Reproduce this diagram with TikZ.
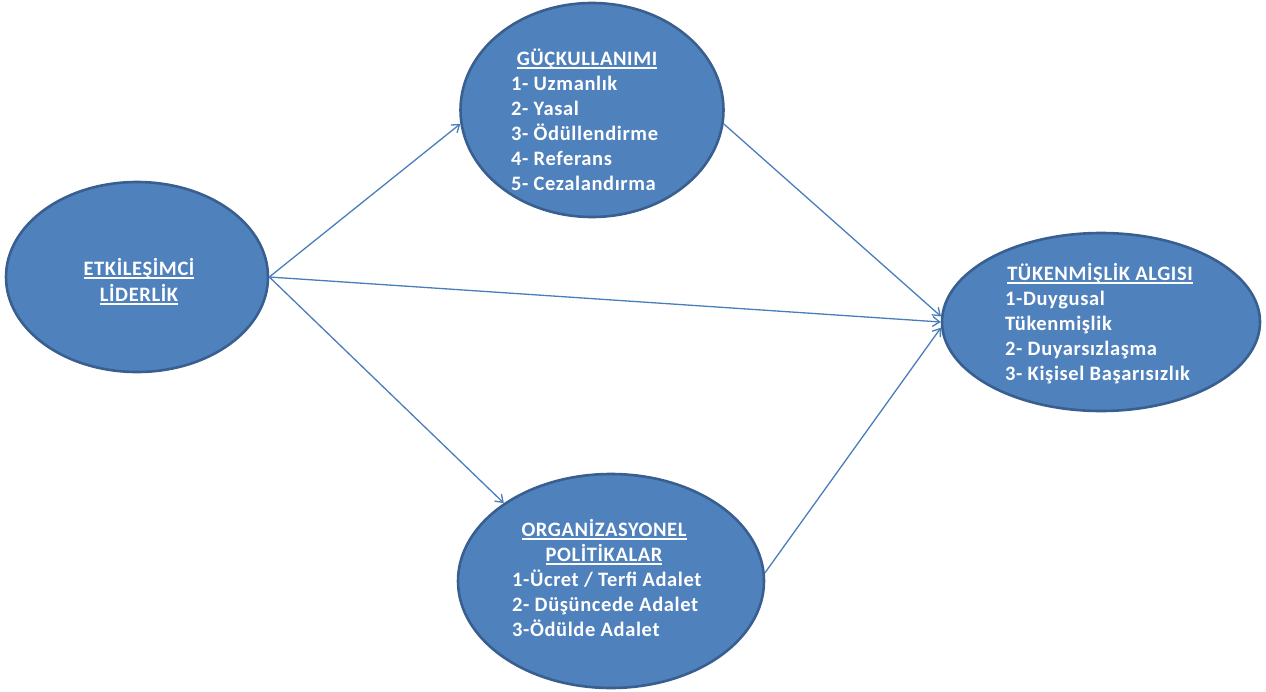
\documentclass[tikz,border=0pt]{standalone}
\usepackage{fontspec}
\setmainfont{Carlito}[LetterSpace=3]
\usetikzlibrary{shapes.geometric,arrows.meta}
\definecolor{fillblue}{HTML}{4F81BD}
\definecolor{edgeblue}{HTML}{385F8F}
\definecolor{linkblue}{HTML}{4A7EBB}
% underlined heading with a heavier rule
\newcommand\headline[1]{\setbox0\hbox{#1}\rlap{\rule[-3.6pt]{\wd0}{1.6pt}}\box0}
\begin{document}
\begin{tikzpicture}[x=1pt,y=-1pt,
  blob/.style={ellipse,draw=edgeblue,line width=2.6pt,fill=fillblue,inner sep=0pt},
  txt/.style={text=white,font=\fontsize{20.5}{25}\selectfont\bfseries,inner sep=0pt},
  head/.style={txt,anchor=base},
  item/.style={txt,anchor=base west},
  link/.style={draw=linkblue,line width=1.3pt,-{Straight Barb[length=7pt,width=10pt]}}]
\useasboundingbox (0,0) rectangle (1266,691);

% ellipses
\node[blob,minimum width=262pt,minimum height=190pt] (lead) at (137,277) {};
\node[blob,minimum width=263pt,minimum height=214pt] (power) at (592,110) {};
\node[blob,minimum width=318pt,minimum height=178pt] (burn) at (1101,322) {};
\node[blob,minimum width=306pt,minimum height=214pt] (org) at (611,581) {};

% connectors
\draw[link] (lead.east) -- (power.186);
\draw[link] (lead.east) -- (burn.180);
\draw[link] (lead.east) -- (org.144);
\draw[link] (power.-6) -- (burn.178);
\draw[link] (org.3) -- (burn.182);

% left ellipse text
\node[head] (leadh1) at (139,275) {\headline{ETKİLEŞİMCİ}};
\node[head] (leadh2) at (139,301) {\headline{LİDERLİK}};

% top ellipse text
\node[head] (powerh) at (587,65) {\headline{GÜÇKULLANIMI}};
\node[item] (power1) at (511,90) {1- Uzmanlık};
\node[item] (power2) at (511,115) {2- Yasal};
\node[item] (power3) at (511,140) {3- Ödüllendirme};
\node[item] (power4) at (511,165) {4- Referans};
\node[item] (power5) at (511,190) {5- Cezalandırma};

% right ellipse text
\node[head] (burnh) at (1100,280) {\headline{TÜKENMİŞLİK ALGISI}};
\node[item] (burn1) at (1005,305) {1-Duygusal};
\node[item] (burn2) at (1005,330) {Tükenmişlik};
\node[item] (burn3) at (1005,355) {2- Duyarsızlaşma};
\node[item] (burn4) at (1005,380) {3- Kişisel Başarısızlık};

% bottom ellipse text
\node[head] (orgh1) at (604,536) {\headline{ORGANİZASYONEL}};
\node[head] (orgh2) at (604,561) {\headline{POLİTİKALAR}};
\node[item] (org1) at (512,586) {1-Ücret / Terfi Adalet};
\node[item] (org2) at (512,611) {2- Düşüncede Adalet};
\node[item] (org3) at (512,636) {3-Ödülde Adalet};
\end{tikzpicture}
\end{document}
